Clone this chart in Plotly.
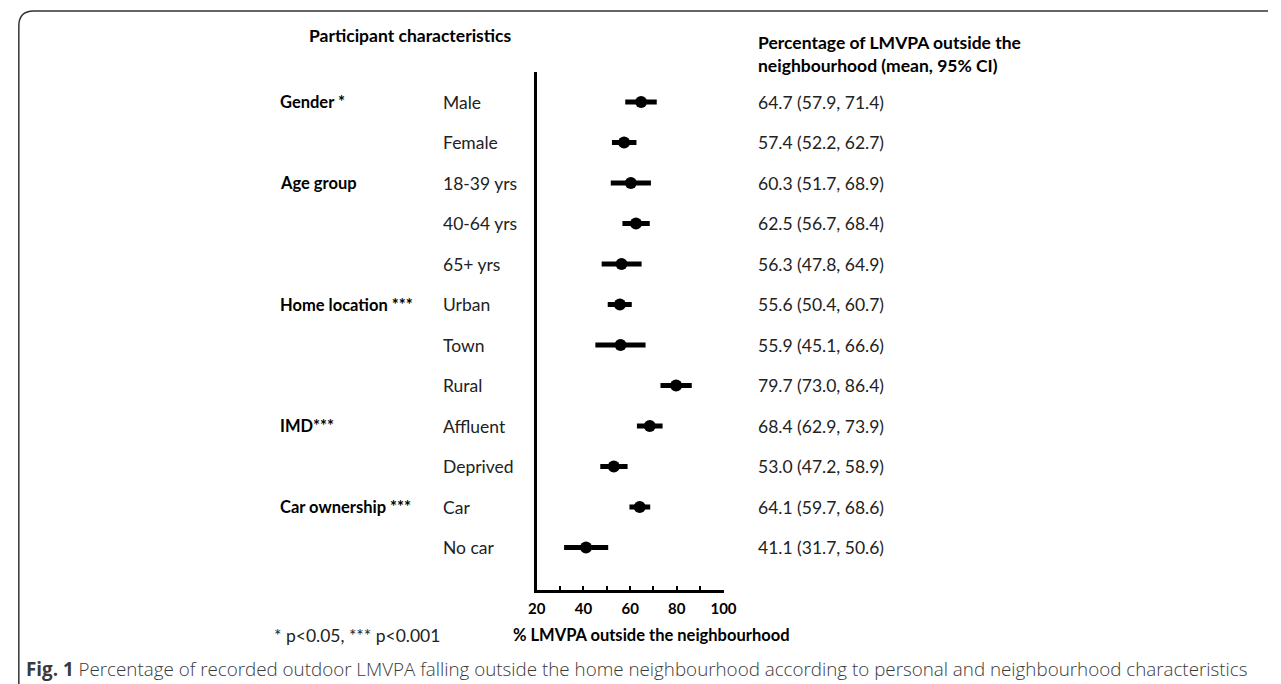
import plotly.graph_objects as go

# ---- data ----
groups = ["Gender *", "", "Age group", "", "", "Home location ***", "", "", "IMD***", "", "Car ownership ***", ""]
categories = ["Male", "Female", "18-39 yrs", "40-64 yrs", "65+ yrs", "Urban", "Town", "Rural",
              "Affluent", "Deprived", "Car", "No car"]
means = [64.7, 57.4, 60.3, 62.5, 56.3, 55.6, 55.9, 79.7, 68.4, 53.0, 64.1, 41.1]
ci_low = [57.9, 52.2, 51.7, 56.7, 47.8, 50.4, 45.1, 73.0, 62.9, 47.2, 59.7, 31.7]
ci_high = [71.4, 62.7, 68.9, 68.4, 64.9, 60.7, 66.6, 86.4, 73.9, 58.9, 68.6, 50.6]
x_tick_vals = [20, 30, 40, 50, 60, 70, 80, 90, 100]
x_tick_text = ["20", "", "40", "", "60", "", "80", "", "100"]

W, H = 1281, 684
def px(x):
    return x / W
def py(y):
    return 1 - y / H

FONT = "Lato"
rows = list(range(len(categories)))
row0_px, row_step = 102, 40.5
y_top_px, y_bot_px = 72, 590

fig = go.Figure()
fig.add_trace(go.Scatter(
    x=means, y=rows, mode="markers",
    marker=dict(symbol="circle", size=12, color="black"),
    error_x=dict(type="data", symmetric=False,
                 array=[h - m for h, m in zip(ci_high, means)],
                 arrayminus=[m - l for m, l in zip(means, ci_low)],
                 thickness=5, width=0, color="black"),
    showlegend=False, hoverinfo="skip", cliponaxis=False,
))

ann = []
for i in rows:
    if groups[i]:
        ann.append(dict(x=px(274), y=i, xref="paper", yref="y", xanchor="left", yanchor="middle",
                        text="<b>" + groups[i] + "</b>", showarrow=False,
                        font=dict(family=FONT, size=16.5, color="black")))
    ann.append(dict(x=px(440), y=i, xref="paper", yref="y", xanchor="left", yanchor="middle",
                    text=categories[i], showarrow=False,
                    font=dict(family=FONT, size=17.5, color="#222")))
    ann.append(dict(x=px(760), y=i, xref="paper", yref="y", xanchor="left", yanchor="middle",
                    text=f"{means[i]:.1f} ({ci_low[i]:.1f}, {ci_high[i]:.1f})", showarrow=False,
                    font=dict(family=FONT, size=17.5, color="#222")))

ann.append(dict(x=px(303), y=py(36), xref="paper", yref="paper", xanchor="left", yanchor="middle",
                text="<b>Participant characteristics</b>", showarrow=False,
                font=dict(family=FONT, size=17.5, color="black")))
ann.append(dict(x=px(760), y=py(54), xref="paper", yref="paper", xanchor="left", yanchor="middle",
                text="<b>Percentage of LMVPA outside the<br>neighbourhood (mean, 95% CI)</b>",
                showarrow=False, align="left",
                font=dict(family=FONT, size=17.5, color="black")))
ann.append(dict(x=px(268), y=py(635), xref="paper", yref="paper", xanchor="left", yanchor="middle",
                text="* p<0.05, *** p<0.001", showarrow=False,
                font=dict(family=FONT, size=17.5, color="#222")))
ann.append(dict(x=px(511), y=py(635), xref="paper", yref="paper", xanchor="left", yanchor="middle",
                text="<b>% LMVPA outside the neighbourhood</b>", showarrow=False,
                font=dict(family=FONT, size=16.5, color="black")))
ann.append(dict(x=px(15), y=py(669), xref="paper", yref="paper", xanchor="left", yanchor="middle",
                text="<b>Fig. 1</b> Percentage of recorded outdoor LMVPA falling outside the home neighbourhood according to personal and neighbourhood characteristics",
                showarrow=False,
                font=dict(family="Open Sans", size=18.8, color="#3a3a3a", weight=300)))

frame_path = (f"M {px(10)},{py(684)} L {px(10)},{py(26)} "
              f"Q {px(10)},{py(11)} {px(25)},{py(11)} L {px(1281)},{py(11)}")

fig.update_layout(
    width=W, height=H, margin=dict(l=0, r=0, t=0, b=0),
    paper_bgcolor="white", plot_bgcolor="white",
    annotations=ann,
    shapes=[dict(type="path", path=frame_path, xref="paper", yref="paper",
                 line=dict(color="#333", width=1.5))],
    xaxis=dict(domain=[px(537), px(727)], range=[20, 100],
               tickmode="array", tickvals=x_tick_vals,
               ticktext=["<b>" + t + "</b>" if t else "" for t in x_tick_text],
               ticks="inside", ticklen=4, tickwidth=2, tickcolor="black",
               ticklabelstandoff=3,
               showline=True, linecolor="black", linewidth=2.5,
               showgrid=False, zeroline=False,
               tickfont=dict(family=FONT, size=15, color="black")),
    yaxis=dict(domain=[py(y_bot_px), py(y_top_px)],
               range=[(y_bot_px - row0_px) / row_step, (y_top_px - row0_px) / row_step],
               showline=True, linecolor="black", linewidth=2.5,
               showticklabels=False, ticks="", showgrid=False, zeroline=False),
)

fig.write_html("out.html", config={"displayModeBar": False},
               post_script="document.body.style.margin='0';document.body.style.overflow='hidden';")
